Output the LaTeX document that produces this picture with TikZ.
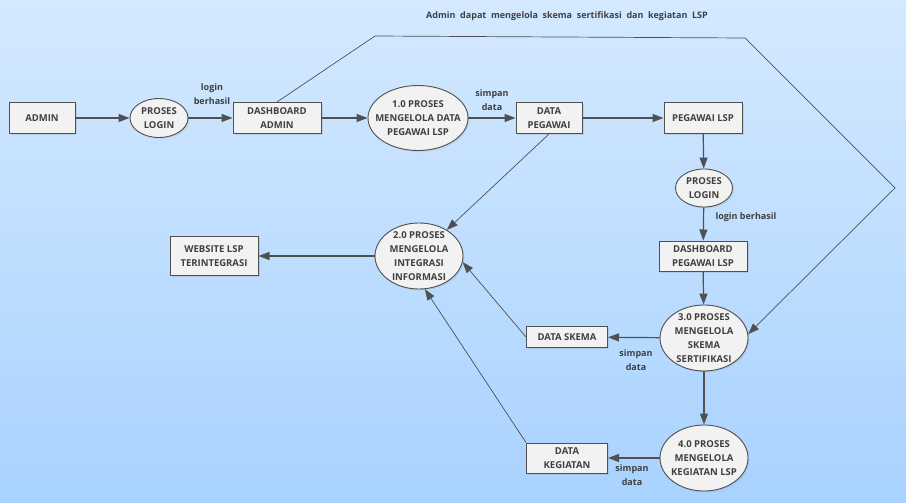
\documentclass[tikz,border=0pt]{standalone}
\usepackage{fontspec}
\setmainfont{Open Sans}
\usetikzlibrary{arrows.meta,shapes.geometric,shadows}
\definecolor{garis}{HTML}{505050}
\definecolor{teks}{HTML}{404040}
\definecolor{isi}{HTML}{F2F2F2}
\definecolor{langitatas}{HTML}{D4E9FF}
\definecolor{langitbawah}{HTML}{A8D2FF}
\tikzset{
  kotak/.style={rectangle, draw=garis, line width=1pt, fill=isi, inner sep=0pt, align=center,
    drop shadow={shadow xshift=1.5pt, shadow yshift=-1.5pt, opacity=.2}},
  proses/.style={ellipse, draw=garis, line width=.9pt, fill=isi, inner xsep=-4pt, inner ysep=-6pt, align=center,
    drop shadow={shadow xshift=1.5pt, shadow yshift=-1.5pt, opacity=.15}},
  alur/.style={draw=garis, line width=1.2pt, ->},
  tipis/.style={draw=garis, line width=.7pt},
  ket/.style={text=teks, align=center, font=\fontsize{9}{14}\selectfont\bfseries}
}

\begin{document}
\begin{tikzpicture}[x=1pt, y=-1pt, >={Triangle[length=11pt,width=8pt]},
  every node/.append style={text=teks, font=\fontsize{9.5}{14}\selectfont\bfseries}]
\shade[top color=langitatas, bottom color=langitbawah] (0,0) rectangle (906,503);
\useasboundingbox (0,0) rectangle (906,503);

% baris admin
\node[kotak, minimum width=66pt, minimum height=31pt] (admin) at (42,118) {ADMIN};
\node[proses, minimum width=58pt, minimum height=39pt] (loginA) at (159,118) {PROSES\\LOGIN};
\node[kotak, minimum width=88pt, minimum height=31pt] (dashA) at (277,118) {DASHBOARD\\ADMIN};
\node[proses, inner xsep=-11pt, minimum width=100pt, minimum height=65pt] (p1) at (418,118) {1.0 PROSES\\MENGELOLA DATA\\PEGAWAI LSP};
\node[kotak, minimum width=66pt, minimum height=31pt] (dataPeg) at (549,118) {DATA\\PEGAWAI};
\node[kotak, minimum width=78pt, minimum height=31pt] (pegLsp) at (703,118) {PEGAWAI LSP};

% kolom pegawai
\node[proses, minimum width=57pt, minimum height=38pt] (loginP) at (704,188) {PROSES\\LOGIN};
\node[kotak, minimum width=88pt, minimum height=30pt] (dashP) at (703,256) {DASHBOARD\\PEGAWAI LSP};
\node[proses, minimum width=88pt, minimum height=66pt] (p3) at (704,338) {3.0 PROSES\\MENGELOLA\\SKEMA\\SERTIFIKASI};
\node[proses, minimum width=88pt, minimum height=66pt] (p4) at (704,458) {4.0 PROSES\\MENGELOLA\\KEGIATAN LSP};
\node[kotak, minimum width=81pt, minimum height=21pt] (dataSkema) at (567,337) {DATA SKEMA};
\node[kotak, minimum width=81pt, minimum height=30pt] (dataKeg) at (567,458) {DATA\\KEGIATAN};

% integrasi
\node[proses, minimum width=88pt, minimum height=66pt] (p2) at (419,256) {2.0 PROSES\\MENGELOLA\\INTEGRASI\\INFORMASI};
\node[kotak, minimum width=88pt, minimum height=39pt] (web) at (214,256) {WEBSITE LSP\\TERINTEGRASI};

% alur data
\draw[alur] (admin) -- (loginA);
\draw[alur] (loginA) -- (dashA);
\draw[alur] (dashA) -- (p1);
\draw[alur] (p1) -- (dataPeg);
\draw[alur] (dataPeg) -- (pegLsp);
\draw[alur] (pegLsp) -- (loginP);
\draw[alur] (loginP) -- (dashP);
\draw[alur] (dashP) -- (p3);
\draw[alur] (p3) -- (dataSkema);
\draw[alur] (p3) -- (p4);
\draw[alur] (p4) -- (dataKeg);
\draw[alur] (p2) -- (web);
\draw[tipis, ->] (dataPeg.south) -- (p2);
\draw[tipis, ->] (dataSkema.west) -- (p2.-8);
\draw[tipis, ->] (dataKeg.north west) -- (p2.-80);

% jalur admin ke skema
\coordinate (belok1) at (375,36);
\coordinate (belok2) at (745,38);
\coordinate (belok3) at (895,188);
\draw[tipis, ->] (dashA.north) -- (belok1) -- (belok2) -- (belok3) -- (p3.5);

% keterangan
\node[ket] (ketLogin1) at (212,94) {login\\berhasil};
\node[ket] (ketSimpan1) at (492,100) {simpan\\data};
\node[ket, anchor=west] (ketLogin2) at (712,217) {login berhasil};
\node[ket] (ketSimpan3) at (636,360) {simpan\\data};
\node[ket] (ketSimpan4) at (632,475) {simpan\\data};
\node[ket] (judul) at (567,16) {Admin\ \ dapat\ \ mengelola\ \ skema\ \ sertifikasi\ \ dan\ \ kegiatan\ \ LSP};
\end{tikzpicture}
\end{document}
